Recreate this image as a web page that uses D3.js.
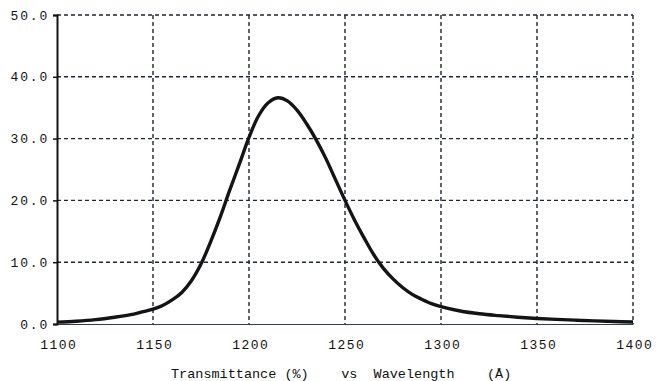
<!DOCTYPE html>
<html>
<head>
<meta charset="utf-8">
<script src="https://cdn.jsdelivr.net/npm/d3@7"></script>
<style>
  html, body { margin: 0; padding: 0; background: #fff; }
  svg text { font-family: "Liberation Mono", "DejaVu Sans Mono", monospace; fill: #111; }
</style>
</head>
<body>
<div id="chart"></div>
<script>
// Transmittance curve
const wavelengths = [1100, 1110, 1120, 1130, 1140, 1145, 1150, 1155, 1160, 1165, 1170, 1175, 1180, 1185, 1190,
  1195, 1200, 1205, 1210, 1215, 1220, 1225, 1230, 1235, 1240, 1245, 1250, 1255, 1260, 1265, 1270,
  1275, 1280, 1285, 1290, 1295, 1300, 1310, 1320, 1330, 1340, 1350, 1360, 1370, 1380, 1390, 1400];
const transmittance = [0.3, 0.45, 0.7, 1.1, 1.6, 2.0, 2.4, 3.0, 3.9, 5.1, 7.0, 9.7, 13.3, 17.3, 21.7,
  25.9, 30.2, 33.7, 35.8, 36.6, 36.1, 34.6, 32.4, 29.8, 26.8, 23.4, 20.0, 16.8, 13.9, 11.2, 9.0,
  7.3, 5.9, 4.8, 4.0, 3.3, 2.8, 2.1, 1.65, 1.35, 1.1, 0.9, 0.75, 0.62, 0.5, 0.4, 0.33];

const xTicks = [1100, 1150, 1200, 1250, 1300, 1350, 1400];
const yTicks = [0, 10, 20, 30, 40, 50];
const title = 'Transmittance (%)    vs  Wavelength    (Å)';

const width = 664, height = 381;
const MARGIN = { top: 15, right: 31, bottom: 57, left: 57 };
const innerW = width - MARGIN.left - MARGIN.right;
const innerH = height - MARGIN.top - MARGIN.bottom;

const svg = d3.select('#chart').append('svg')
  .attr('width', width)
  .attr('height', height);

const g = svg.append('g')
  .attr('transform', `translate(${MARGIN.left},${MARGIN.top})`);

const x = d3.scaleLinear().domain([1100, 1400]).range([0, innerW]);
const y = d3.scaleLinear().domain([0, 50]).range([innerH, 0]);

const gridColour = '#1d2633';

// dashed grid (includes top and right edges)
g.selectAll('.vgrid')
  .data(xTicks.slice(1))
  .join('line')
  .attr('x1', d => x(d)).attr('x2', d => x(d))
  .attr('y1', 0).attr('y2', innerH)
  .attr('stroke', gridColour)
  .attr('stroke-width', 1.4)
  .attr('stroke-dasharray', '4,3');

g.selectAll('.hgrid')
  .data(yTicks.slice(1))
  .join('line')
  .attr('x1', 0).attr('x2', innerW)
  .attr('y1', d => y(d)).attr('y2', d => y(d))
  .attr('stroke', gridColour)
  .attr('stroke-width', 1.4)
  .attr('stroke-dasharray', '4,3');

// x axis: thin line, labels only
const xAxis = g.append('g')
  .attr('transform', `translate(0,${innerH})`)
  .call(d3.axisBottom(x).tickValues(xTicks).tickSize(0).tickPadding(16).tickFormat(d3.format('d')));
xAxis.select('.domain').attr('stroke', '#24405a').attr('stroke-width', 1.2);
xAxis.selectAll('text')
  .style('font-size', '13px')
  .style('letter-spacing', '1.5px')
  .attr('dx', '0.1em');

// y axis: solid black with small ticks
const yAxis = g.append('g')
  .call(d3.axisLeft(y).tickValues(yTicks).tickSize(4).tickPadding(4).tickFormat(d3.format('.1f')));
yAxis.select('.domain').attr('stroke', '#111').attr('stroke-width', 2);
yAxis.selectAll('.tick line').attr('stroke', '#111').attr('stroke-width', 1.5);
yAxis.selectAll('text')
  .style('font-size', '13px')
  .style('letter-spacing', '1.8px');

// the curve
const points = wavelengths.map((w, i) => ({ w, t: transmittance[i] }));
const line = d3.line().x(d => x(d.w)).y(d => y(d.t)).curve(d3.curveCatmullRom.alpha(0.5));
g.append('path')
  .datum(points)
  .attr('d', line)
  .attr('fill', 'none')
  .attr('stroke', '#141414')
  .attr('stroke-width', 3.4)
  .attr('stroke-linejoin', 'round');

// axis title
svg.append('text')
  .attr('x', 171)
  .attr('y', 378)
  .attr('xml:space', 'preserve')
  .style('white-space', 'pre')
  .style('font-size', '13.5px')
  .text(title);
</script>
</body>
</html>
